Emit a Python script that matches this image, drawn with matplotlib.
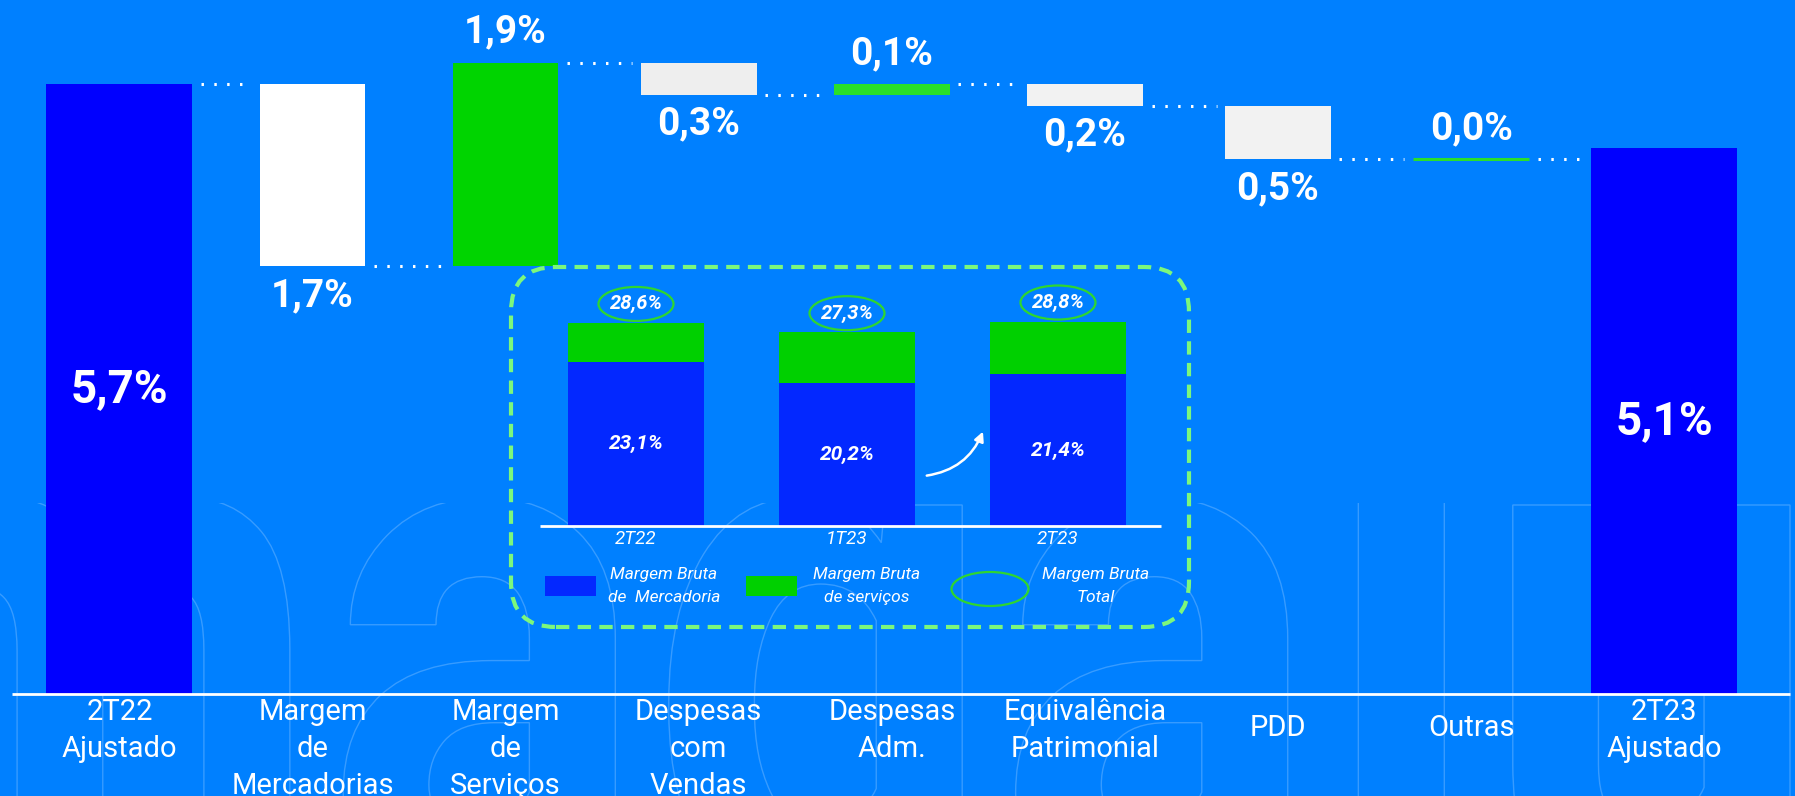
import matplotlib
matplotlib.use("Agg")
import matplotlib.pyplot as plt
from matplotlib.patches import FancyBboxPatch, Ellipse, Rectangle, PathPatch, FancyArrowPatch
from matplotlib.textpath import TextPath
from matplotlib.font_manager import FontProperties
from matplotlib.transforms import Affine2D, IdentityTransform

plt.rcParams['font.family'] = ['Roboto', 'DejaVu Sans']

# ---- data -------------------------------------------------------------
categories = ["2T22\nAjustado", "Margem\nde\nMercadorias", "Margem\nde\nServiços",
              "Despesas\ncom\nVendas", "Despesas\nAdm.", "Equivalência\nPatrimonial",
              "PDD", "Outras", "2T23\nAjustado"]
start_margin = 5.7
end_margin = 5.1
changes = [-1.7, 1.9, -0.3, 0.1, -0.2, -0.5, 0.0]

quarters = ["2T22", "1T23", "2T23"]
gross_goods = [23.1, 20.2, 21.4]
gross_total = [28.6, 27.3, 28.8]

# ---- style --------------------------------------------------------------
BG = "#0080FF"
TOTAL_BLUE = "#0000FF"
step_colors = ["#FFFFFF", "#00D400", "#EEEEEE", "#2ADF2A", "#F2F2F2", "#F2F2F2", "#2ADF2A"]
bar_widths = [0.756, 0.545, 0.545, 0.60, 0.60, 0.60, 0.545, 0.60, 0.756]
INSET_BLUE = "#0328FF"
INSET_GREEN = "#00D000"
RING_GREEN = "#2FD62F"
BOX_GREEN = "#7CF77C"

W, H = 1795, 796
fig = plt.figure(figsize=(W / 100, H / 100), dpi=100, facecolor=BG)


def pct(v, digits=1):
    return f"{v:.{digits}f}".replace(".", ",") + "%"


def fpx(x, y):
    """pixel position (from top-left) -> figure fraction"""
    return x / W, 1 - y / H


# ---- faint watermark lettering --------------------------------------------
wm_prop = FontProperties(family="Roboto", weight="bold")
wm = TextPath((0, 0), "magalu", size=1, prop=wm_prop)
ext = wm.get_extents()
x_height = TextPath((0, 0), "x", size=1, prop=wm_prop).get_extents().y1
sx = (1790 + 170) / (ext.x1 - ext.x0)
sy = 400 / x_height
wm_tr = Affine2D().translate(-ext.x0, 0).scale(sx, sy).translate(-170, H - 905)
wm_patch = PathPatch(wm, transform=wm_tr, facecolor="none",
                     edgecolor=(1, 1, 1, 0.22), lw=1.0, zorder=-5)
clip = Rectangle((0, 0), W, H - 503, transform=IdentityTransform())
wm_patch.set_clip_path(clip)
fig.add_artist(wm_patch)

# ---- main waterfall -------------------------------------------------------
PXU = 193.1      # pixels per category step
X0 = 119.4       # pixel x of first category
S = 107.0        # pixels per percentage point
BASE = 694       # pixel y of the zero line

ax = fig.add_axes([0, 0, 1, 1])
ax.set_facecolor("none")
ax.set_xlim(-X0 / PXU, (W - X0) / PXU)
ax.set_ylim(-(H - BASE) / S, BASE / S)
ax.axis("off")

n = len(categories)
ax.bar(0, start_margin, width=bar_widths[0], color=TOTAL_BLUE, zorder=2)
ax.bar(n - 1, end_margin, width=bar_widths[-1], color=TOTAL_BLUE, zorder=2)

levels = [start_margin]
running = start_margin
for k, d in enumerate(changes):
    i = k + 1
    low = min(running, running + d)
    ax.bar(i, abs(d), bottom=low, width=bar_widths[i], color=step_colors[k],
           edgecolor=step_colors[k], lw=2.2 if d == 0 else 0, zorder=2)
    if d >= 0:
        ax.annotate(pct(abs(d)), (i, running + d), xytext=(0, 14.4), textcoords="offset points",
                    ha="center", va="baseline", fontsize=28, fontweight="bold", color="white")
    else:
        ax.annotate(pct(abs(d)), (i, running + d), xytext=(0, -28.8), textcoords="offset points",
                    ha="center", va="baseline", fontsize=28, fontweight="bold", color="white")
    running += d
    levels.append(running)

# dotted connectors
gap = 0.045
for i in range(n - 1):
    x1 = i + bar_widths[i] / 2 + gap
    x2 = i + 1 - bar_widths[i + 1] / 2 - gap
    ax.plot([x1, x2], [levels[i], levels[i]], color="white", lw=2.2,
            linestyle=(0, (0.8, 3.4)), dash_capstyle="butt", zorder=3)

# totals written inside the big bars
ax.text(0, start_margin / 2, pct(start_margin), ha="center", va="center",
        fontsize=33, fontweight="bold", color="white", zorder=4)
ax.text(n - 1, end_margin / 2, pct(end_margin), ha="center", va="center",
        fontsize=33, fontweight="bold", color="white", zorder=4)

# zero line
ax.plot([(12 - X0) / PXU, (1790 - X0) / PXU], [0, 0], color="white", lw=2, zorder=3,
        solid_capstyle="butt")

# category labels
for i, lab in enumerate(categories):
    if "\n" in lab:
        ax.text(i, -(698 - BASE) / S, lab, ha="center", va="top", fontsize=21,
                color="white", linespacing=1.42)
    else:
        ax.text(i, -(728 - BASE) / S, lab, ha="center", va="center", fontsize=21,
                color="white")

# ---- inset: gross margin -----------------------------------------------
IPX = 211.0      # pixels per quarter step
IX0 = 636        # pixel x of first quarter
IS = 7.1         # pixels per percentage point
IBASE = 526      # pixel y of inset zero line
L, R, T, B = 520, 1180, 270, 620
axi = fig.add_axes([L / W, 1 - B / H, (R - L) / W, (B - T) / H])
axi.set_facecolor("none")
axi.axis("off")
axi.set_xlim((L - IX0) / IPX, (R - IX0) / IPX)
axi.set_ylim(-(B - IBASE) / IS, (IBASE - T) / IS)

services = [t - g for t, g in zip(gross_total, gross_goods)]
xs = list(range(len(quarters)))
axi.bar(xs, gross_goods, width=0.645, color=INSET_BLUE, zorder=2)
axi.bar(xs, services, bottom=gross_goods, width=0.645, color=INSET_GREEN, zorder=2)
axi.plot([(540 - IX0) / IPX, (1161 - IX0) / IPX], [0, 0], color="white", lw=2,
         solid_capstyle="butt", zorder=3)

for x, g, t, q in zip(xs, gross_goods, gross_total, quarters):
    axi.text(x, g / 2, pct(g), ha="center", va="center", fontsize=15,
             fontweight="bold", fontstyle="italic", color="white", zorder=4)
    cy = t + 19 / IS
    axi.add_patch(Ellipse((x, cy), 75 / IPX, 34 / IS, facecolor="none",
                          edgecolor=RING_GREEN, lw=1.6, zorder=4))
    axi.text(x, cy, pct(t), ha="center", va="center", fontsize=14.5,
             fontweight="bold", fontstyle="italic", color="white", zorder=5)
    axi.text(x, -(539 - IBASE) / IS, q, ha="center", va="center", fontsize=13.5,
             fontstyle="italic", color="white")

# curved arrow between the last two quarters
fig.add_artist(FancyArrowPatch((924, H - 476), (984, H - 429), transform=IdentityTransform(),
                               connectionstyle="arc3,rad=0.3", arrowstyle="-|>",
                               mutation_scale=14, lw=1.8, color="white"))

# legend
fig.add_artist(Rectangle((545, H - 596), 51, 20, transform=IdentityTransform(),
                         facecolor=INSET_BLUE, edgecolor="none"))
fig.add_artist(Rectangle((746, H - 596), 51, 20, transform=IdentityTransform(),
                         facecolor=INSET_GREEN, edgecolor="none"))
fig.add_artist(Ellipse((990, H - 589), 77, 34, transform=IdentityTransform(),
                       facecolor="none", edgecolor=RING_GREEN, lw=1.6))
for cx, txt in [(664, "Margem Bruta\nde  Mercadoria"), (867, "Margem Bruta\nde serviços"),
                (1096, "Margem Bruta\nTotal")]:
    fig.text(*fpx(cx, 586), txt, ha="center", va="center", fontsize=12.5,
             fontstyle="italic", color="white", linespacing=1.6)

# dashed rounded frame
fig.add_artist(FancyBboxPatch((511, H - 627), 678, 360, transform=IdentityTransform(),
                              boxstyle="round,pad=0,rounding_size=45", facecolor="none",
                              edgecolor=BOX_GREEN, lw=3, linestyle=(0, (3.2, 2.0))))

fig.savefig("out.png", dpi=100, facecolor=BG)
